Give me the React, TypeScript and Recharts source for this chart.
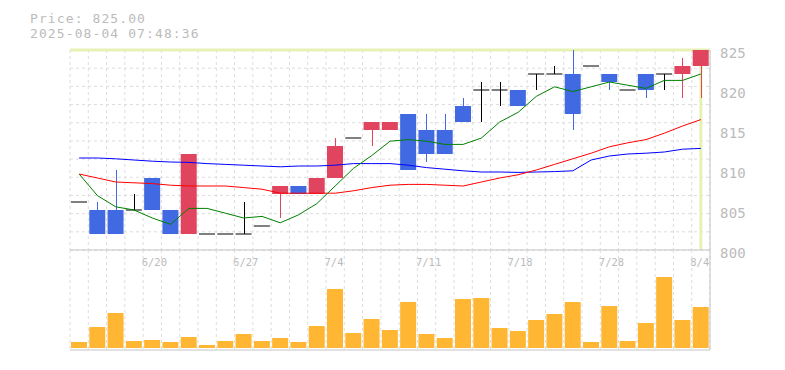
import React from 'react';
import { ComposedChart, BarChart, Bar, Line, XAxis, YAxis, CartesianGrid, ReferenceLine } from 'recharts';

const dates = ['6/16','6/17','6/18','6/19','6/20','6/23','6/24','6/25','6/26','6/27','6/30','7/1','7/2','7/3','7/4','7/7','7/8','7/9','7/10','7/11','7/14','7/15','7/16','7/17','7/18','7/22','7/23','7/24','7/25','7/28','7/29','7/30','7/31','8/1','8/4'];
const labelDates = ['6/20','6/27','7/4','7/11','7/18','7/28','8/4'];
const opens = [806,805,805,805,809,805,802,802,802,802,803,807,808,807,809,814,815,815,817,815,815,818,820,820,820,822,822,822,823,822,820,822,822,822,823];
const highs = [806,806,810,807,809,805,812,802,802,806,803,808,808,809,814,814,816,816,817,817,817,819,821,821,820,822,823,825,823,822,820,822,822,824,825];
const lows = [806,802,802,805,805,802,802,802,802,802,803,804,807,807,809,814,813,815,810,811,812,816,816,818,818,820,822,815,823,820,820,819,820,819,819];
const closes = [806,802,802,805,805,802,812,802,802,802,803,808,807,809,813,814,816,816,810,812,812,816,820,820,818,822,822,817,823,821,820,820,822,823,825];
const ma5 = [809.5,806.8,805.4,805.0,804.0,803.2,805.2,805.2,804.6,804.0,804.2,803.4,804.4,805.8,808.0,810.2,811.8,813.6,813.8,813.6,813.2,813.2,814.0,816.0,817.2,819.2,820.4,819.8,820.4,821.0,820.6,820.2,821.2,821.2,822.0];
const ma25 = [809.5,809.0,808.5,808.4,808.3,808.1,808.0,808.0,808.0,807.8,807.6,807.1,807.1,807.1,807.1,807.4,807.8,808.1,808.2,808.2,808.1,808.0,808.5,809.0,809.4,810.0,810.7,811.4,812.1,812.9,813.4,813.8,814.6,815.5,816.3];
const ma75 = [811.5,811.5,811.4,811.25,811.1,811.0,810.95,810.8,810.7,810.6,810.5,810.4,810.5,810.5,810.6,810.8,810.8,810.8,810.6,810.3,810.1,809.9,809.75,809.75,809.7,809.75,809.8,809.9,811.25,811.75,812.0,812.1,812.25,812.6,812.7];
const volumes = [6,21,35,7,8,6,11,3,7,14,7,10,6,22,59,15,29,18,46,14,10,49,50,20,17,28,34,46,6,42,7,25,71,28,41];
const priceTicks = [800, 805, 810, 815, 820, 825];
const priceMin = 800;
const priceMax = 825;
const lastPrice = 825;
const lastDate = '8/4';
const titlePrice = 'Price: 825.00';
const titleTime = '2025-08-04 07:48:36';

const data = dates.map((d, i) => ({
  date: d, open: opens[i], high: highs[i], low: lows[i], close: closes[i],
  ma5: ma5[i], ma25: ma25[i], ma75: ma75[i], volume: volumes[i],
}));

const UP = '#e0445f';
const DOWN = '#4169e1';
const FONT = '"DejaVu Sans Mono", monospace';
const GRID = '#dddddd';
const AXIS = '#c4c4c4';
const TEXT = '#bbbbbb';
const HILITE = '#e6f2b4';

const Candle = (props: any) => {
  const { x, y, width, height, payload } = props;
  const { open, close, high, low } = payload;
  const k = height / (high - priceMin);
  const py = (p: number) => y + (high - p) * k;
  const cx = Math.round(x + width / 2) + 0.5;
  if (open === close) {
    return (
      <g>
        {high !== low && <line x1={cx} x2={cx} y1={py(high)} y2={py(low)} stroke="#000" strokeWidth={1} />}
        <line x1={x} x2={x + width} y1={py(open)} y2={py(open)} stroke="#000" strokeWidth={1} />
      </g>
    );
  }
  const color = close > open ? UP : DOWN;
  const top = py(Math.max(open, close));
  const bot = py(Math.min(open, close));
  return (
    <g>
      <rect x={x} y={top} width={width} height={bot - top} fill={color} />
      <line x1={cx} x2={cx} y1={py(high)} y2={py(low)} stroke={color} strokeWidth={1} />
    </g>
  );
};

const PriceTick = (props: any) => {
  const { x, y, payload } = props;
  return (
    <text x={x + 10} y={y + 8} fill={TEXT} fontSize={14} fontFamily={FONT} letterSpacing={0.2}>
      {payload.value}
    </text>
  );
};

const DateTick = (props: any) => {
  const { x, y, payload } = props;
  if (!labelDates.includes(payload.value)) return null;
  return (
    <text x={x - 10.6} y={y + 16} fill={TEXT} fontSize={10.5} fontFamily={FONT}>
      {payload.value}
    </text>
  );
};

const vGen = ({ offset }: any) =>
  Array.from({ length: dates.length + 1 }, (_, i) => offset.left + (i * offset.width) / dates.length);
const hGen = ({ offset }: any) =>
  Array.from({ length: 12 }, (_, i) => offset.top + (i * offset.height) / 11);

const priceMargin = { top: 50, right: 0, left: 70, bottom: 0 };

export default function App() {
  return (
    <div style={{ position: 'absolute', left: 0, top: 0, width: 785, height: 370, background: '#fff' }}>
      <svg width={785} height={50} style={{ position: 'absolute', left: 0, top: 0 }}>
        <text x={30} y={22.7} fill={TEXT} fontSize={13} fontFamily={FONT} letterSpacing={1.1}>{titlePrice}</text>
        <text x={30} y={37.7} fill={TEXT} fontSize={13} fontFamily={FONT} letterSpacing={1.1}>{titleTime}</text>
      </svg>
      {/* background layer: grid and current-price highlight */}
      <div style={{ position: 'absolute', left: 0, top: 0 }}>
        <ComposedChart width={785} height={270} data={data} margin={priceMargin}>
          <CartesianGrid stroke={GRID} strokeDasharray="3 3" verticalCoordinatesGenerator={vGen} horizontalCoordinatesGenerator={hGen} />
          <XAxis dataKey="date" interval={0} height={20} tick={false} tickLine={false} axisLine={false} />
          <YAxis orientation="right" width={75} domain={[priceMin, priceMax]} allowDataOverflow tick={false} tickLine={false} axisLine={false} />
          <Bar dataKey="high" barSize={16} fill="transparent" isAnimationActive={false} />
          <ReferenceLine y={lastPrice} stroke={HILITE} strokeWidth={3} />
          <ReferenceLine x={lastDate} stroke={HILITE} strokeWidth={3} />
        </ComposedChart>
      </div>
      {/* foreground layer: moving averages, candles, axes */}
      <div style={{ position: 'absolute', left: 0, top: 0 }}>
        <ComposedChart width={785} height={270} data={data} margin={priceMargin}>
          <XAxis dataKey="date" interval={0} height={20} tickSize={0} tickMargin={0} tickLine={false} axisLine={{ stroke: AXIS }} tick={<DateTick />} />
          <YAxis orientation="right" width={75} domain={[priceMin, priceMax]} ticks={priceTicks} interval={0} allowDataOverflow tickSize={0} tickMargin={0} tickLine={false} axisLine={{ stroke: AXIS }} tick={<PriceTick />} />
          <Line dataKey="ma75" stroke="#0000ff" strokeWidth={1} dot={false} isAnimationActive={false} type="linear" />
          <Line dataKey="ma25" stroke="#ff0000" strokeWidth={1} dot={false} isAnimationActive={false} type="linear" />
          <Line dataKey="ma5" stroke="#008000" strokeWidth={1} dot={false} isAnimationActive={false} type="linear" />
          <Bar dataKey="high" barSize={16} shape={<Candle />} isAnimationActive={false} />
        </ComposedChart>
      </div>
      <div style={{ position: 'absolute', left: 0, top: 250 }}>
        <BarChart width={785} height={120} data={data} margin={{ top: 0, right: 0, left: 70, bottom: 10 }}>
          <CartesianGrid stroke={GRID} strokeDasharray="3 3" horizontal={false} verticalCoordinatesGenerator={vGen} />
          <XAxis dataKey="date" height={10} tick={false} tickLine={false} axisLine={{ stroke: AXIS }} />
          <YAxis orientation="right" width={75} domain={[-2, 98]} tick={false} tickLine={false} axisLine={{ stroke: AXIS }} />
          <Bar dataKey="volume" barSize={16} fill="#ffb733" isAnimationActive={false} />
        </BarChart>
      </div>
    </div>
  );
}
